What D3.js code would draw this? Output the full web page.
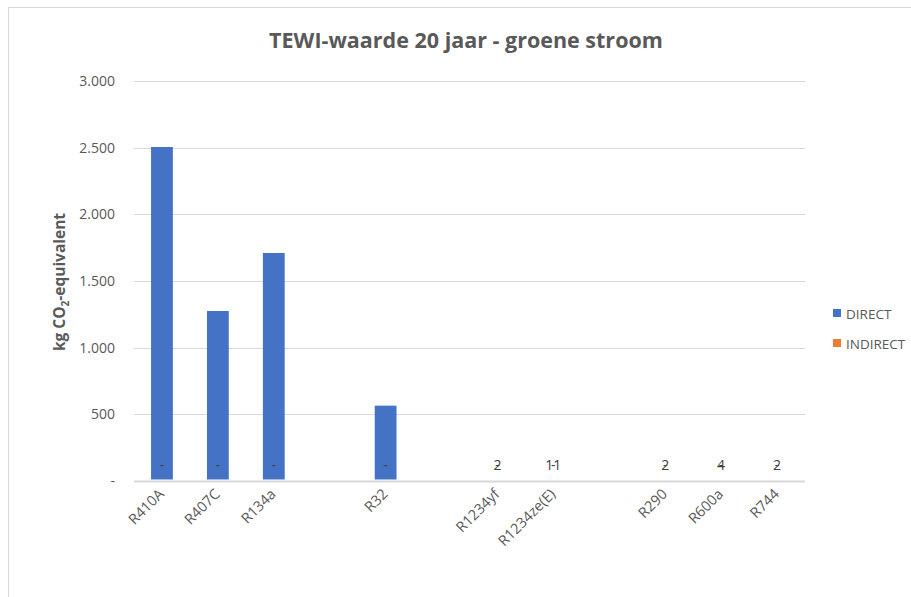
<!DOCTYPE html>
<html>
<head>
<meta charset="utf-8">
<script src="https://cdn.jsdelivr.net/npm/d3@7"></script>
<style>
  body { margin: 0; background: #fff; }
  text { font-family: "Open Sans", sans-serif; }
</style>
</head>
<body>
<div id="chart"></div>
<script>
// refrigerants, blank slots are empty categories in the sheet
const categories = ["R410A", "R407C", "R134a", " 1", "R32", " 2", "R1234yf", "R1234ze(E)", " 3", "R290", "R600a", "R744"]
const direct = [2505, 1275, 1710, 0, 565, 0, 2, 11, 0, 2, 4, 2]
const indirect = [0, 0, 0, null, 0, null, 0, 0, null, 0, 0, 0]
const directLabels = ["", "", "", "", "", "", "2", "11", "", "2", "4", "2"]
const yTicks = [0, 500, 1000, 1500, 2000, 2500, 3000]
const seriesNames = ["DIRECT", "INDIRECT"]
const seriesColors = ["#4472c4", "#ed7d31"]

const WIDTH = 911, HEIGHT = 597
const LEFT = 134, RIGHT = 805, TOP = 81, BOTTOM = 481

const svg = d3.select("#chart").append("svg").attr("width", WIDTH).attr("height", HEIGHT)

// chart area border
svg.append("rect").attr("x", 8.5).attr("y", 7.5).attr("width", WIDTH).attr("height", HEIGHT)
    .attr("fill", "none").attr("stroke", "#d9d9d9")

const x = d3.scaleBand().domain(categories).range([LEFT, RIGHT]).paddingInner(0.61).paddingOuter(0.305)
const y = d3.scaleLinear().domain([0, 3000]).range([BOTTOM, TOP])

const fmt = d => d == 0 ? "-" : d3.format(",")(d).replace(/,/g, ".")

// gridlines
svg.append("g").selectAll("line").data(yTicks.filter(d => d > 0)).enter().append("line")
    .attr("x1", LEFT).attr("x2", RIGHT).attr("y1", d => Math.round(y(d)) + .5).attr("y2", d => Math.round(y(d)) + .5)
    .attr("stroke", "#d9d9d9")

// y tick labels
svg.append("g").selectAll("text").data(yTicks).enter().append("text")
    .attr("x", 115).attr("y", d => y(d) + 5).attr("text-anchor", "end")
    .attr("font-size", 14).attr("fill", "#595959").text(fmt)

// bars
svg.append("g").selectAll("rect").data(categories).enter().append("rect")
    .attr("x", d => x(d)).attr("width", x.bandwidth())
    .attr("y", (d, i) => y(direct[i])).attr("height", (d, i) => Math.max(0, BOTTOM - y(direct[i]) - 1.5))
    .attr("fill", seriesColors[0])

// x axis line
svg.append("line").attr("x1", LEFT).attr("x2", RIGHT).attr("y1", BOTTOM + .5).attr("y2", BOTTOM + .5)
    .attr("stroke", "#d9d9d9").attr("stroke-width", 2)

// data labels
const labels = svg.append("g")
categories.forEach((c, i) => {
    const cx = x(c) + x.bandwidth() / 2
    if (directLabels[i] != "") {
        labels.append("text").attr("x", cx).attr("y", 470).attr("text-anchor", "middle")
            .attr("font-size", 14).attr("fill", "#404040").text(directLabels[i])
    }
    if (indirect[i] != null) {
        labels.append("text").attr("x", cx).attr("y", 470).attr("text-anchor", "middle")
            .attr("font-size", 14).attr("fill", "#404040").text(fmt(indirect[i]))
    }
})

// x labels
svg.append("g").selectAll("text").data(categories.filter(c => c.trim().length > 2)).enter().append("text")
    .attr("transform", d => "translate(" + (x(d) + x.bandwidth() / 2 + 3) + "," + 495 + ") rotate(-45)")
    .attr("text-anchor", "end").attr("font-size", 14.5).attr("fill", "#595959").text(d => d)

// title
svg.append("text").attr("x", 466).attr("y", 48).attr("text-anchor", "middle")
    .attr("font-size", 21.5).attr("font-weight", "bold").attr("fill", "#595959")
    .text("TEWI-waarde 20 jaar - groene stroom")

// y axis title
const yt = svg.append("text").attr("transform", "translate(65,282) rotate(-90)").attr("text-anchor", "middle")
    .attr("font-size", 15.5).attr("font-weight", "bold").attr("fill", "#595959")
yt.append("tspan").text("kg CO")
yt.append("tspan").attr("font-size", 10).attr("dy", 4).text("2")
yt.append("tspan").attr("dy", -4).text("-equivalent")

// legend
const legend = svg.append("g").attr("transform", "translate(833,309)")
seriesNames.forEach((s, i) => {
    const row = legend.append("g").attr("transform", "translate(0," + (i * 30) + ")")
    row.append("rect").attr("width", 8).attr("height", 8).attr("fill", seriesColors[i])
    row.append("text").attr("x", 13).attr("y", 9.5).attr("font-size", 13.5).attr("fill", "#595959").text(s)
})
</script>
</body>
</html>
